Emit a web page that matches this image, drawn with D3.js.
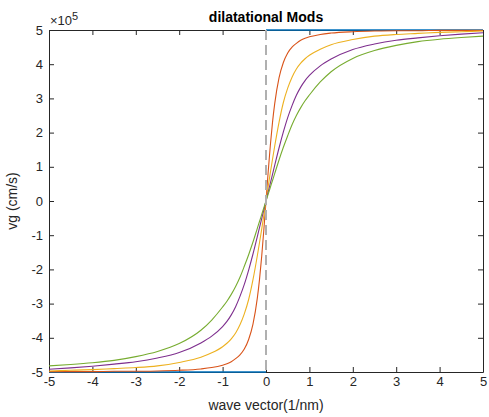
<!DOCTYPE html>
<html>
<head>
<meta charset="utf-8">
<script src="https://cdn.jsdelivr.net/npm/d3@7"></script>
<style>
  body { margin: 0; background: #fff; }
  text { font-family: Arial, "Liberation Sans", sans-serif; fill: #262626; }
</style>
</head>
<body>
<div id="vis"></div>
<script>
// wave vector (1/nm)
var waveVector = [-5, -4.5, -4, -3.5, -3, -2.5, -2, -1.5, -1.25, -1, -0.9, -0.8, -0.7, -0.6, -0.5, -0.4, -0.3, -0.2, -0.15, -0.1, -0.05,
  0, 0.05, 0.1, 0.15, 0.2, 0.3, 0.4, 0.5, 0.6, 0.7, 0.8, 0.9, 1, 1.25, 1.5, 2, 2.5, 3, 3.5, 4, 4.5, 5];

// group velocity, units of 1e5 cm/s
var orangeVg = [-4.99, -4.99, -4.99, -4.98, -4.98, -4.97, -4.95, -4.91, -4.87, -4.8, -4.76, -4.7, -4.61, -4.5, -4.33, -4.05, -3.6, -2.84, -2.3, -1.63, -0.85,
  0, 0.85, 1.63, 2.3, 2.84, 3.6, 4.05, 4.33, 4.5, 4.61, 4.7, 4.76, 4.8, 4.87, 4.91, 4.95, 4.97, 4.98, 4.98, 4.99, 4.99, 4.99];
var yellowVg = [-4.97, -4.95, -4.93, -4.9, -4.87, -4.82, -4.72, -4.57, -4.44, -4.26, -4.16, -4.03, -3.86, -3.62, -3.3, -2.88, -2.3, -1.6, -1.22, -0.83, -0.42,
  0, 0.42, 0.83, 1.22, 1.6, 2.3, 2.88, 3.3, 3.62, 3.86, 4.03, 4.16, 4.26, 4.44, 4.57, 4.72, 4.82, 4.87, 4.9, 4.93, 4.95, 4.97];
var purpleVg = [-4.92, -4.88, -4.83, -4.77, -4.7, -4.59, -4.43, -4.15, -3.95, -3.67, -3.52, -3.33, -3.09, -2.79, -2.44, -2.02, -1.55, -1.04, -0.78, -0.52, -0.26,
  0, 0.26, 0.52, 0.78, 1.04, 1.55, 2.02, 2.44, 2.79, 3.09, 3.33, 3.52, 3.67, 3.95, 4.15, 4.43, 4.59, 4.7, 4.77, 4.83, 4.88, 4.92];
var greenVg = [-4.82, -4.78, -4.73, -4.66, -4.55, -4.4, -4.17, -3.78, -3.48, -3.1, -2.93, -2.73, -2.5, -2.23, -1.91, -1.57, -1.2, -0.8, -0.6, -0.4, -0.2,
  0, 0.2, 0.4, 0.6, 0.8, 1.2, 1.57, 1.91, 2.23, 2.5, 2.73, 2.93, 3.1, 3.48, 3.78, 4.17, 4.4, 4.55, 4.66, 4.73, 4.78, 4.82];

// limit line (blue): -5 on the left, +5 on the right, broken at 0
var stepX = [-5, 0, 0, 0, 5];
var stepVg = [-5, -5, NaN, 5, 5];

var xTicks = [-5, -4, -3, -2, -1, 0, 1, 2, 3, 4, 5];
var yTicks = [-5, -4, -3, -2, -1, 0, 1, 2, 3, 4, 5];

// SVG geometry
var width = 489,
  height = 417;
var margin = { top: 30, left: 49, bottom: 45, right: 6 };

var x = d3.scaleLinear()
  .domain([-5, 5])
  .range([margin.left, width - margin.right]);
var y = d3.scaleLinear()
  .domain([-5, 5])
  .range([height - margin.bottom, margin.top]);

var svg = d3.select('#vis')
  .append('svg')
  .attr('width', width)
  .attr('height', height);

var axisColor = '#262626';
var fmt = function(d) { return String(d); };

// axes (box with inward ticks)
svg.append('g')
  .attr('transform', 'translate(0,' + y(-5) + ')')
  .call(d3.axisBottom(x).tickValues(xTicks).tickFormat(fmt).tickSizeInner(-5).tickSizeOuter(0).tickPadding(5));
svg.append('g')
  .attr('transform', 'translate(0,' + y(5) + ')')
  .call(d3.axisTop(x).tickValues(xTicks).tickFormat('').tickSizeInner(-5).tickSizeOuter(0));
svg.append('g')
  .attr('transform', 'translate(' + x(-5) + ',0)')
  .call(d3.axisLeft(y).tickValues(yTicks).tickFormat(fmt).tickSizeInner(-5).tickSizeOuter(0).tickPadding(6));
svg.append('g')
  .attr('transform', 'translate(' + x(5) + ',0)')
  .call(d3.axisRight(y).tickValues(yTicks).tickFormat('').tickSizeInner(-5).tickSizeOuter(0));

svg.selectAll('.domain').attr('stroke', axisColor).attr('stroke-width', 1);
svg.selectAll('.tick line').attr('stroke', axisColor).attr('stroke-width', 1);
svg.selectAll('.tick text')
  .attr('font-size', 13)
  .attr('font-family', 'Arial, "Liberation Sans", sans-serif')
  .attr('fill', axisColor);

// curves
var line = d3.line()
  .defined(function(d) { return !isNaN(d[1]); })
  .x(function(d) { return x(d[0]); })
  .y(function(d) { return y(d[1]); })
  .curve(d3.curveMonotoneX);

function pairs(xs, ys) {
  return xs.map(function(v, i) { return [v, ys[i]]; });
}

var series = [
  { vals: orangeVg, color: '#D95319' },
  { vals: yellowVg, color: '#EDB120' },
  { vals: purpleVg, color: '#7E2F8E' },
  { vals: greenVg, color: '#77AC30' }
];

svg.append('path')
  .datum(pairs(stepX, stepVg))
  .attr('fill', 'none')
  .attr('stroke', '#0072BD')
  .attr('stroke-width', 1.5)
  .attr('d', d3.line()
    .defined(function(d) { return !isNaN(d[1]); })
    .x(function(d) { return x(d[0]); })
    .y(function(d) { return y(d[1]); }));

series.forEach(function(s) {
  svg.append('path')
    .datum(pairs(waveVector, s.vals))
    .attr('fill', 'none')
    .attr('stroke', s.color)
    .attr('stroke-width', 1.1)
    .attr('stroke-linejoin', 'round')
    .attr('d', line);
});

// dashed line at k = 0
svg.append('line')
  .attr('x1', x(0)).attr('x2', x(0))
  .attr('y1', y(5)).attr('y2', y(-5))
  .attr('stroke', '#b0b0b0')
  .attr('stroke-width', 2)
  .attr('stroke-dasharray', '10,5');

// texts
svg.append('text')
  .attr('x', x(0))
  .attr('y', 22)
  .attr('text-anchor', 'middle')
  .attr('font-size', 14)
  .attr('font-weight', 'bold')
  .style('fill', '#000')
  .text('dilatational Mods');

svg.append('text')
  .attr('x', x(0))
  .attr('y', 410)
  .attr('text-anchor', 'middle')
  .attr('font-size', 14)
  .text('wave vector(1/nm)');

svg.append('text')
  .attr('transform', 'translate(17,' + y(0) + ') rotate(-90)')
  .attr('text-anchor', 'middle')
  .attr('font-size', 14)
  .text('vg (cm/s)');

var expo = svg.append('text')
  .attr('x', x(-5) + 1)
  .attr('y', 25)
  .attr('font-size', 13);
expo.append('tspan').text('\u00d710');
expo.append('tspan')
  .attr('font-size', 11)
  .attr('dy', -5)
  .text('5');
</script>
</body>
</html>
